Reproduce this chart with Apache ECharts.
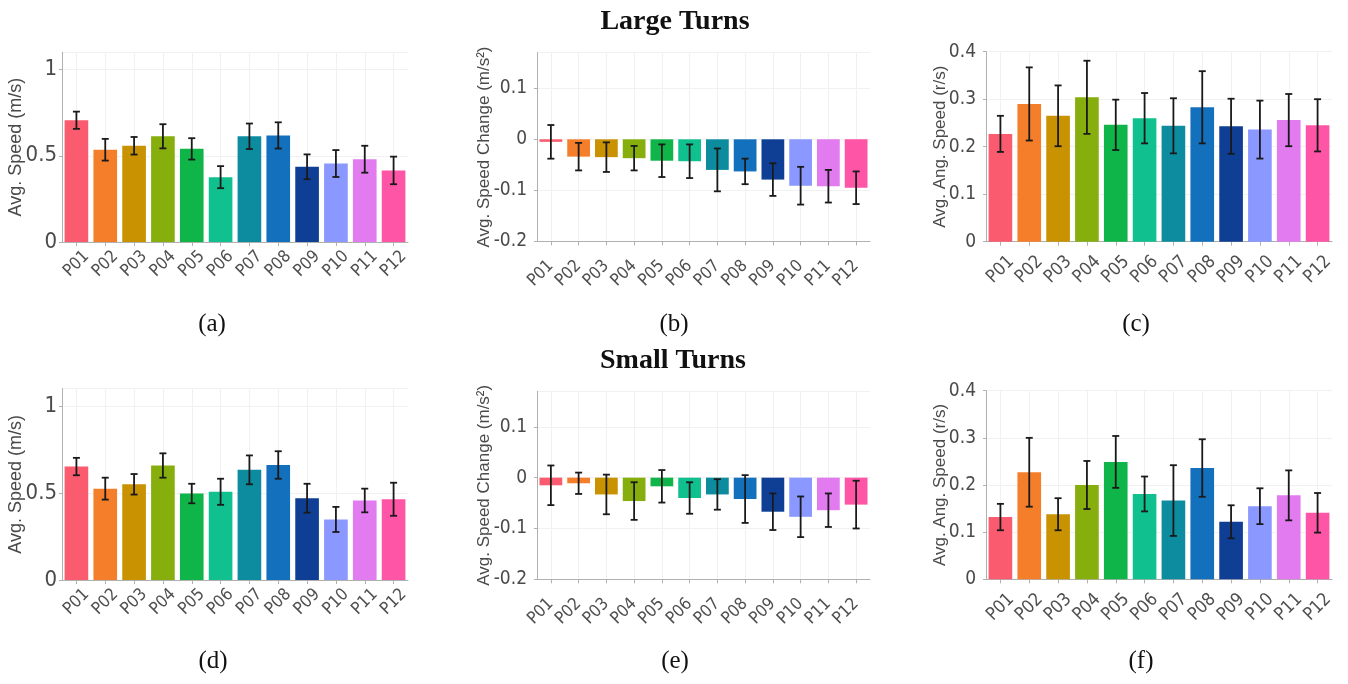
<!DOCTYPE html>
<html>
<head>
<meta charset="utf-8">
<script src="https://cdn.jsdelivr.net/npm/echarts@6/dist/echarts.min.js"></script>
<style>
html,body{margin:0;padding:0;background:#fff;}
#chart{width:1348px;height:684px;}
</style>
</head>
<body>
<div id="chart"></div>
<script>
// ---------- data ----------
const categories = ['P01','P02','P03','P04','P05','P06','P07','P08','P09','P10','P11','P12'];

const largeSpeedMean = [0.706, 0.535, 0.558, 0.613, 0.540, 0.376, 0.613, 0.618, 0.436, 0.455, 0.480, 0.415];
const largeSpeedSd   = [0.050, 0.063, 0.051, 0.070, 0.062, 0.064, 0.074, 0.076, 0.072, 0.078, 0.078, 0.080];

const largeChangeMean = [-0.005, -0.034, -0.035, -0.037, -0.042, -0.043, -0.060, -0.063, -0.079, -0.091, -0.092, -0.095];
const largeChangeSd   = [0.033, 0.027, 0.029, 0.024, 0.032, 0.033, 0.042, 0.025, 0.032, 0.037, 0.032, 0.032];

const largeAngMean = [0.227, 0.290, 0.265, 0.304, 0.246, 0.260, 0.244, 0.283, 0.243, 0.236, 0.256, 0.245];
const largeAngSd   = [0.038, 0.077, 0.064, 0.077, 0.053, 0.053, 0.058, 0.076, 0.058, 0.061, 0.055, 0.055];

const smallSpeedMean = [0.652, 0.525, 0.550, 0.658, 0.497, 0.507, 0.633, 0.661, 0.470, 0.348, 0.457, 0.464];
const smallSpeedSd   = [0.050, 0.063, 0.059, 0.070, 0.056, 0.075, 0.083, 0.079, 0.083, 0.072, 0.068, 0.095];

const smallChangeMean = [-0.015, -0.011, -0.033, -0.046, -0.017, -0.040, -0.033, -0.042, -0.067, -0.077, -0.064, -0.053];
const smallChangeSd   = [0.039, 0.021, 0.039, 0.037, 0.032, 0.031, 0.030, 0.047, 0.036, 0.040, 0.033, 0.047];

const smallAngMean = [0.132, 0.227, 0.138, 0.200, 0.249, 0.181, 0.167, 0.236, 0.122, 0.155, 0.178, 0.141];
const smallAngSd   = [0.028, 0.073, 0.034, 0.051, 0.055, 0.037, 0.075, 0.061, 0.035, 0.038, 0.053, 0.042];

const barColors = ['#FA5B6E','#F57E2B','#C89200','#86AE0C','#10B54A','#10C08E',
                   '#0C8C9E','#1370BC','#0E3F95','#8A98FF','#E27BF0','#FF55A6'];

const speedTitle  = 'Avg. Speed (m/s)';
const changeTitle = 'Avg. Speed Change (m/s²)';
const angTitle    = 'Avg. Ang. Speed (r/s)';

const rowTitles = ['Large Turns', 'Small Turns'];
const captions  = ['(a)','(b)','(c)','(d)','(e)','(f)'];

// ---------- layout ----------
const narrow = "'Liberation Sans Narrow','Arial Narrow','DejaVu Sans Condensed','Liberation Sans',sans-serif";
const sans = "'Liberation Sans',Arial,sans-serif";
const serif = "'Liberation Serif','Times New Roman',serif";

const panels = [
  {mean: largeSpeedMean,  sd: largeSpeedSd,  name: speedTitle,  min: 0,    max: 1.1,  interval: 0.5, grid:{left:62,  top:52.3,  width:346, height:189.7}, nameGap:37, nameSize:18, tickSize:22, tickMargin:5,  xAlign:'center', xMargin:22, xSize:17},
  {mean: largeChangeMean, sd: largeChangeSd, name: changeTitle, min: -0.2, max: 0.17, interval: 0.1, grid:{left:537, top:52.6,  width:333, height:188.7}, nameGap:44, nameSize:17, tickSize:19, tickMargin:10, xAlign:'right',  xMargin:22, xSize:17},
  {mean: largeAngMean,    sd: largeAngSd,    name: angTitle,    min: 0,    max: 0.4,  interval: 0.1, grid:{left:986, top:51.7,  width:346, height:190},   nameGap:37, nameSize:17, tickSize:19, tickMargin:10, xAlign:'center', xMargin:28, xSize:18},
  {mean: smallSpeedMean,  sd: smallSpeedSd,  name: speedTitle,  min: 0,    max: 1.1,  interval: 0.5, grid:{left:62,  top:388.6, width:346, height:191.4}, nameGap:37, nameSize:18, tickSize:22, tickMargin:5,  xAlign:'center', xMargin:22, xSize:17},
  {mean: smallChangeMean, sd: smallChangeSd, name: changeTitle, min: -0.2, max: 0.17, interval: 0.1, grid:{left:537, top:391.3, width:333, height:188},   nameGap:44, nameSize:17, tickSize:19, tickMargin:10, xAlign:'right',  xMargin:22, xSize:17},
  {mean: smallAngMean,    sd: smallAngSd,    name: angTitle,    min: 0,    max: 0.4,  interval: 0.1, grid:{left:986, top:390.7, width:346, height:188.6}, nameGap:37, nameSize:17, tickSize:19, tickMargin:10, xAlign:'center', xMargin:28, xSize:18}
];
const captionPos = [[212,324],[674,324],[1136,324],[213,661],[675,661],[1141,661]];
const titlePos = [[675,22],[673,361]];

function renderErr(params, api) {
  const x = api.value(0), lo = api.value(1), hi = api.value(2);
  const a = api.coord([x, lo]), b = api.coord([x, hi]);
  const w = 3.5;
  const style = {stroke:'#1a1a1a', lineWidth:1.8};
  return {type:'group', children:[
    {type:'line', shape:{x1:a[0], y1:a[1], x2:b[0], y2:b[1]}, style: style},
    {type:'line', shape:{x1:a[0]-w, y1:a[1], x2:a[0]+w, y2:a[1]}, style: style},
    {type:'line', shape:{x1:b[0]-w, y1:b[1], x2:b[0]+w, y2:b[1]}, style: style}
  ]};
}

const grids = [], xAxes = [], yAxes = [], series = [];
panels.forEach((p, k) => {
  grids.push(Object.assign({containLabel:false}, p.grid));
  xAxes.push({
    type:'category', gridIndex:k, data:categories,
    axisLine:{onZero:false, lineStyle:{color:'#b0b0b0', width:1}},
    axisTick:{show:true, alignWithLabel:true, length:4, lineStyle:{color:'#b0b0b0'}},
    axisLabel:{rotate:45, margin:p.xMargin, align:p.xAlign, verticalAlign:'middle',
               color:'#505050', fontSize:p.xSize, fontFamily:narrow, interval:0, hideOverlap:false},
    splitLine:{show:true, alignWithLabel:true, lineStyle:{color:'#f1f1f1', width:1}}
  });
  yAxes.push({
    type:'value', gridIndex:k, min:p.min, max:p.max, interval:p.interval,
    name:p.name, nameLocation:'middle', nameGap:p.nameGap, nameRotate:90, nameMoveOverlap:false,
    nameTextStyle:{color:'#4a4a4a', fontSize:p.nameSize, fontFamily:sans},
    axisLine:{show:true, lineStyle:{color:'#b0b0b0', width:1}},
    axisTick:{show:true, length:3, lineStyle:{color:'#b0b0b0'}},
    axisLabel:{color:'#4a4a4a', fontSize:p.tickSize, fontFamily:narrow, margin:p.tickMargin, showMaxLabel: p.max === 0.4},
    splitLine:{show:true, lineStyle:{color:'#f1f1f1', width:1}}
  });
  series.push({
    type:'bar', xAxisIndex:k, yAxisIndex:k, barCategoryGap:'18%',
    data:p.mean.map((v,i)=>({value:v, itemStyle:{color:barColors[i]}})),
    silent:true, animation:false, z:2
  });
  series.push({
    type:'custom', xAxisIndex:k, yAxisIndex:k, renderItem:renderErr,
    encode:{x:0, y:[1,2]},
    data:p.mean.map((v,i)=>[i, v - p.sd[i], v + p.sd[i]]),
    silent:true, animation:false, z:5
  });
});

const graphics = [];
rowTitles.forEach((t,i)=>{
  graphics.push({type:'text', x:titlePos[i][0], y:titlePos[i][1],
    style:{text:t, fill:'#111', font:'bold 28px ' + serif, textAlign:'center', textVerticalAlign:'middle'}});
});
captions.forEach((c,i)=>{
  graphics.push({type:'text', x:captionPos[i][0], y:captionPos[i][1],
    style:{text:c, fill:'#111', font:'25px ' + serif, textAlign:'center', textVerticalAlign:'middle'}});
});

const chart = echarts.init(document.getElementById('chart'), null, {renderer:'canvas'});
chart.setOption({
  backgroundColor:'#fff',
  animation:false,
  grid:grids, xAxis:xAxes, yAxis:yAxes, series:series,
  graphic:graphics
});
</script>
</body>
</html>
